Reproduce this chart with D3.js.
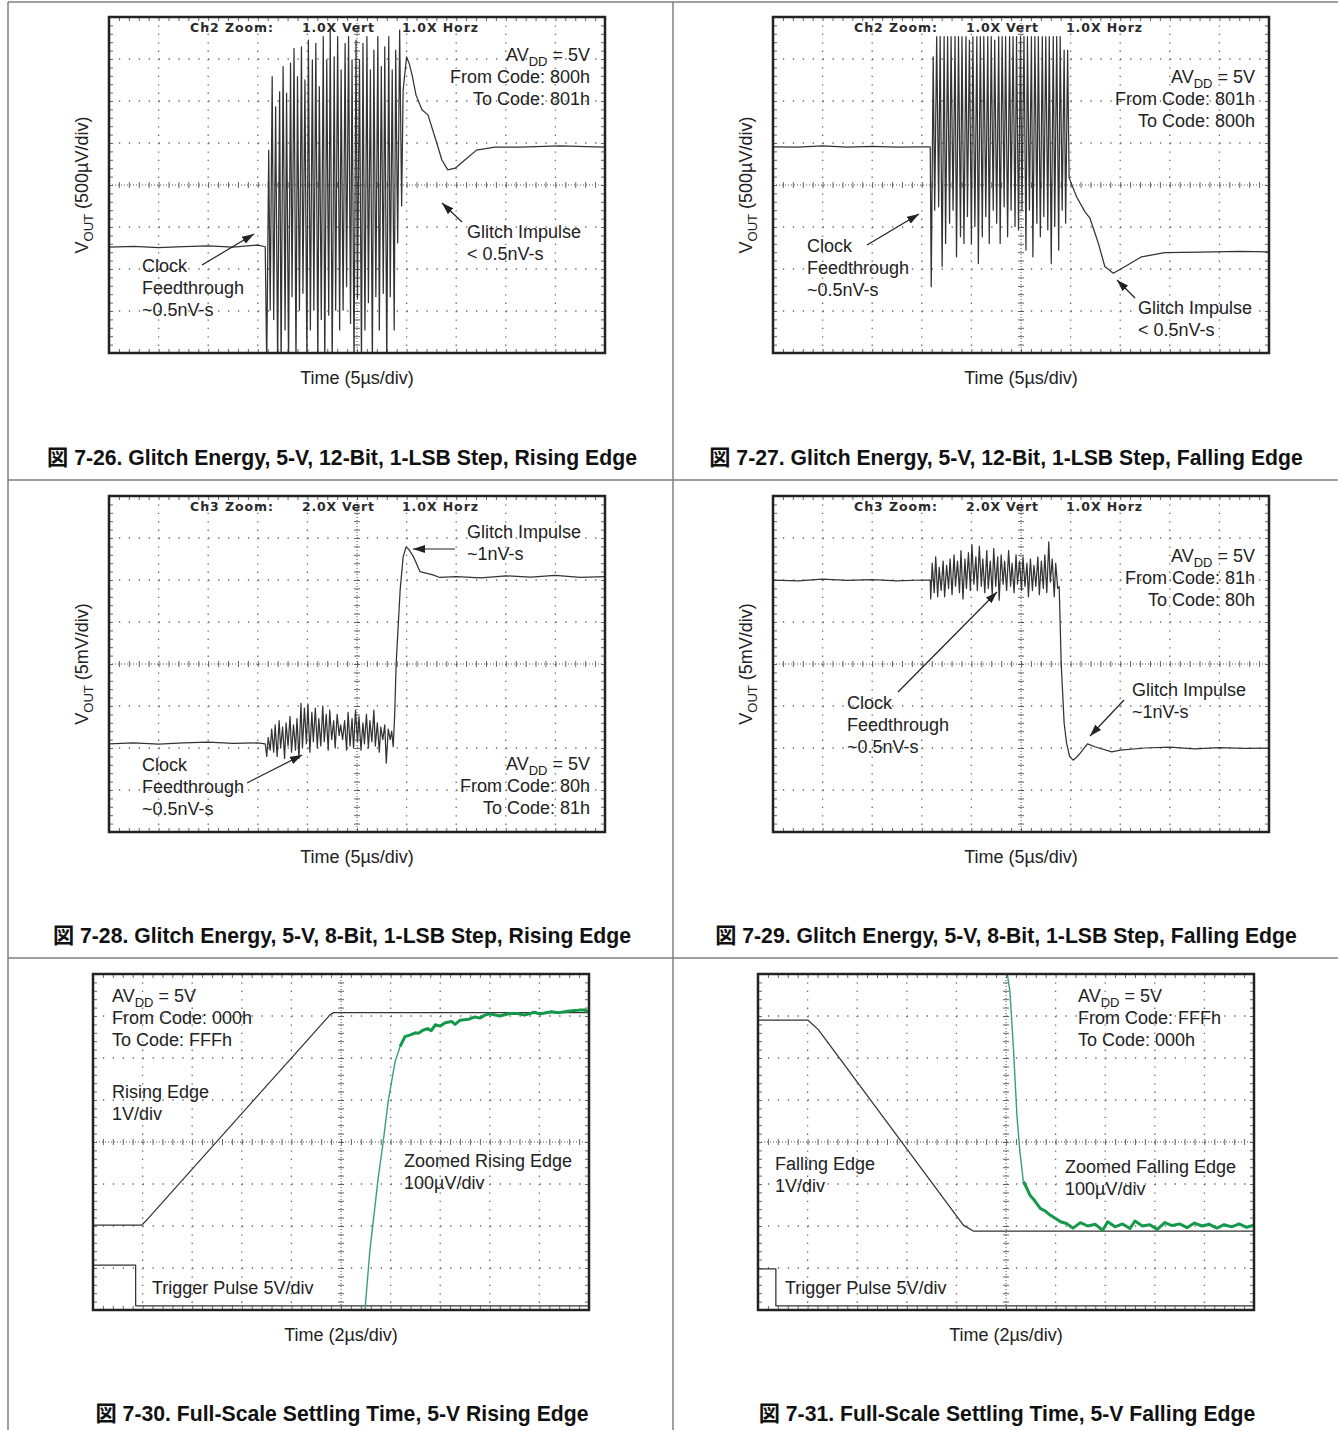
<!DOCTYPE html>
<html>
<head>
<meta charset="utf-8">
<script src="https://cdn.jsdelivr.net/npm/d3@7"></script>
<style>
  body { margin: 0; background: #fff; }
  svg { display: block; }
  text { font-family: "Liberation Sans", Arial, "Noto Sans CJK JP", sans-serif; fill: #222; }
  .cap { font-weight: bold; font-size: 21.2px; fill: #111; }
  .note { font-size: 18px; }
  .hdr { font-family: "DejaVu Sans", sans-serif; font-weight: bold; font-size: 12.5px; fill: #2a2a2a; }
</style>
</head>
<body>
<div id="chart"></div>
<script>
const width = 1338, height = 1430

// scope traces, [time (div), voltage (div)]
const fig26Trace = [[0,-1.48],[0.5,-1.46],[1.0,-1.49],[1.5,-1.47],[2.0,-1.45],[2.5,-1.48],[3.0,-1.43],[3.15,-1.47],
  [3.18,-4.3],[3.22,0.83],[3.25,-2.98],[3.29,2.58],[3.32,-3.2],[3.36,1.86],[3.40,-4.3],[3.44,2.22],[3.47,-4.3],[3.51,2.82],
  [3.55,-3.45],[3.58,2.18],[3.62,-4.3],[3.66,2.90],[3.69,-2.66],[3.73,3.25],[3.77,-4.3],[3.80,2.58],[3.84,-2.98],[3.88,3.29],
  [3.91,-2.58],[3.95,2.50],[3.99,-4.3],[4.02,3.45],[4.06,-3.45],[4.10,2.98],[4.13,-2.98],[4.17,3.37],[4.21,-4.3],[4.24,2.34],
  [4.28,-3.2],[4.32,3.53],[4.35,-4.3],[4.39,2.98],[4.43,-3.1],[4.46,3.69],[4.50,-4.3],[4.54,3.05],[4.57,-2.98],[4.61,3.53],
  [4.65,-3.45],[4.68,2.74],[4.72,-2.98],[4.76,3.37],[4.79,-2.42],[4.83,3.53],[4.87,-3.3],[4.90,2.98],[4.94,-4.3],[4.98,3.45],
  [5.01,-2.7],[5.05,2.98],[5.09,-4.3],[5.12,3.37],[5.16,-3.45],[5.20,3.53],[5.23,-2.8],[5.27,2.74],[5.31,-4.3],[5.34,3.21],
  [5.38,-2.66],[5.42,3.53],[5.45,-3.45],[5.49,2.82],[5.53,-2.58],[5.56,3.29],[5.60,-4.3],[5.64,3.53],[5.67,-2.66],[5.71,2.74],
  [5.75,-3.45],[5.78,3.21],[5.82,-1.38],[5.86,3.69],[5.90,-0.5],[5.93,2.26],
  [6.0,3.05],[6.05,2.9],[6.11,2.62],[6.19,2.14],[6.31,1.79],[6.43,1.67],[6.59,1.07],[6.71,0.6],[6.83,0.36],[6.98,0.40],
  [7.18,0.6],[7.41,0.83],[7.78,0.9],[8.29,0.9],[9.09,0.93],[10,0.9]]

const fig27Trace = [[0,0.91],[0.5,0.90],[1.0,0.93],[1.5,0.90],[2.0,0.92],[2.5,0.90],[3.0,0.91],[3.17,0.91],
  [3.19,-2.42],[3.23,3.05],[3.26,-0.60],[3.30,3.53],[3.34,-0.52],[3.37,3.53],[3.41,-1.94],[3.45,3.53],[3.48,-1.39],[3.52,3.53],
  [3.56,-0.91],[3.59,3.53],[3.63,-0.60],[3.67,3.53],[3.70,-1.71],[3.74,3.53],[3.78,-1.23],[3.81,3.53],[3.85,-1.39],[3.89,3.53],
  [3.92,-0.75],[3.96,3.45],[4.00,-1.39],[4.03,3.53],[4.07,-0.99],[4.11,3.53],[4.14,-1.87],[4.18,3.53],[4.22,-1.23],[4.25,3.53],
  [4.29,-0.75],[4.33,3.53],[4.36,-1.39],[4.40,3.53],[4.44,-0.60],[4.47,3.45],[4.51,-0.91],[4.55,3.53],[4.58,-1.39],[4.62,3.53],
  [4.66,-0.52],[4.69,3.53],[4.73,-1.23],[4.77,3.53],[4.80,-0.60],[4.84,3.53],[4.88,-0.99],[4.91,3.53],[4.95,-1.07],[4.99,3.53],
  [5.02,-0.60],[5.06,3.53],[5.10,-1.55],[5.13,3.53],[5.17,-0.60],[5.21,3.53],[5.24,-1.71],[5.28,3.53],[5.32,-0.91],[5.35,3.53],
  [5.39,-1.23],[5.43,3.53],[5.46,-0.75],[5.50,3.53],[5.54,-1.07],[5.57,3.53],[5.61,-1.87],[5.65,3.53],[5.68,-0.99],[5.72,3.53],
  [5.76,-1.55],[5.79,3.53],[5.83,-0.60],[5.87,3.21],[5.90,-0.91],[5.94,3.21],[5.97,0.17],
  [6.12,-0.28],[6.29,-0.64],[6.39,-0.79],[6.47,-1.07],[6.56,-1.39],[6.69,-1.94],[6.86,-2.10],[7.10,-1.94],[7.43,-1.71],
  [7.90,-1.61],[8.61,-1.60],[9.42,-1.58],[10,-1.59]]

const fig28Trace = [[0,-1.90],[0.5,-1.88],[1.0,-1.91],[1.5,-1.88],[2.0,-1.86],[2.5,-1.89],[3.0,-1.88],[3.15,-1.90],
  [3.18,-2.20],[3.21,-1.75],[3.25,-2.05],[3.28,-1.55],[3.32,-2.10],[3.35,-1.45],[3.39,-2.20],[3.43,-1.35],[3.46,-2.00],
  [3.50,-1.50],[3.54,-2.25],[3.57,-1.40],[3.61,-1.95],[3.65,-1.25],[3.68,-2.10],[3.72,-1.45],[3.76,-2.05],[3.79,-1.30],
  [3.83,-2.25],[3.87,-0.94],[3.90,-2.00],[3.94,-1.05],[3.98,-1.90],[4.01,-0.95],[4.05,-2.10],[4.09,-1.15],[4.12,-1.85],
  [4.16,-1.05],[4.20,-2.00],[4.23,-1.30],[4.27,-1.95],[4.31,-1.00],[4.34,-1.85],[4.38,-1.20],[4.42,-2.05],[4.45,-1.10],
  [4.49,-1.80],[4.53,-1.35],[4.56,-2.00],[4.60,-1.20],[4.64,-1.70],[4.67,-1.45],[4.71,-1.80],[4.75,-1.35],[4.79,-2.05],
  [4.82,-1.15],[4.86,-1.95],[4.90,-1.30],[4.93,-2.00],[4.97,-1.10],[5.01,-1.85],[5.04,-1.25],[5.08,-2.05],[5.12,-1.40],
  [5.15,-1.90],[5.19,-1.20],[5.23,-2.00],[5.26,-1.35],[5.30,-1.85],[5.34,-1.10],[5.37,-1.95],[5.41,-1.40],[5.45,-2.10],
  [5.48,-1.50],[5.52,-1.80],[5.56,-1.45],[5.59,-2.36],[5.63,-1.55],[5.67,-1.80],[5.70,-1.60],[5.73,-1.97],
  [5.76,-1.2],[5.79,0.02],[5.87,1.76],[5.93,2.55],[5.99,2.79],[6.05,2.72],[6.14,2.55],[6.27,2.20],[6.53,2.12],[6.67,2.06],
  [7.0,2.08],[7.5,2.05],[8.0,2.10],[8.5,2.07],[9.0,2.11],[9.5,2.06],[10,2.08]]

const fig29Trace = [[0,2.0],[0.5,1.98],[1.0,2.02],[1.5,1.99],[2.0,2.01],[2.5,1.98],[3.0,2.0],[3.17,2.0],
  [3.18,1.55],[3.21,2.40],[3.25,1.70],[3.28,2.55],[3.32,1.60],[3.35,2.30],[3.39,1.75],[3.43,2.45],[3.46,1.60],[3.50,2.35],
  [3.54,1.80],[3.57,2.50],[3.61,1.65],[3.65,2.60],[3.68,1.85],[3.72,2.45],[3.76,1.70],[3.79,2.70],[3.83,1.55],[3.87,2.50],
  [3.90,1.80],[3.94,2.65],[3.98,1.75],[4.01,2.85],[4.05,1.90],[4.09,2.55],[4.12,1.75],[4.16,2.80],[4.20,1.85],[4.23,2.50],
  [4.27,1.70],[4.31,2.70],[4.34,1.80],[4.38,2.45],[4.42,1.65],[4.45,2.75],[4.49,1.85],[4.53,2.55],[4.56,1.52],[4.60,2.60],
  [4.64,1.90],[4.67,2.45],[4.71,1.75],[4.75,2.70],[4.79,1.85],[4.82,2.40],[4.86,1.70],[4.90,2.60],[4.93,1.90],[4.97,2.45],
  [5.01,1.75],[5.04,2.55],[5.08,1.85],[5.12,2.40],[5.15,1.60],[5.19,2.50],[5.23,1.75],[5.26,2.35],[5.30,1.85],[5.34,2.55],
  [5.37,1.65],[5.41,2.45],[5.45,1.80],[5.48,2.60],[5.52,1.70],[5.56,2.91],[5.59,1.95],[5.63,2.50],[5.67,1.60],[5.70,2.40],
  [5.74,1.80],[5.77,1.84],
  [5.81,0.02],[5.87,-1.41],[5.92,-1.89],[5.98,-2.20],[6.05,-2.29],[6.12,-2.22],[6.19,-2.13],[6.34,-1.90],[6.49,-1.97],
  [6.83,-2.09],[7.0,-2.05],[7.5,-2.0],[8.0,-1.98],[8.5,-2.02],[9.0,-1.99],[9.5,-2.01],[10,-2.0]]

const fig30Output = [[0,-1.98],[0.98,-1.98],[1.05,-1.90],[4.72,2.95],[4.78,3.03],[4.85,3.08],[10,3.08]]
const fig30ZoomRise = [[5.47,-4.2],[5.58,-2.61],[5.75,-0.86],[5.85,0.0],[5.95,0.96],[6.09,1.91],[6.19,2.27]]
const fig30ZoomSettle = [[6.19,2.27],[6.29,2.51],[6.40,2.55],[6.50,2.60],[6.56,2.59],[6.65,2.66],[6.75,2.70],[6.82,2.65],
  [6.9,2.79],[7.0,2.76],[7.1,2.84],[7.23,2.87],[7.3,2.80],[7.4,2.90],[7.57,2.92],[7.7,2.98],[7.8,2.95],[7.9,3.02],[8.0,3.05],
  [8.2,3.0],[8.4,3.06],[8.57,3.06],[8.7,3.02],[8.9,3.09],[9.0,3.05],[9.24,3.10],[9.4,3.08],[9.6,3.12],[9.8,3.14],[9.92,3.14],[10,3.08]]
const fig30Trigger = [[0,-2.93],[0.86,-2.93],[0.86,-3.9],[10,-3.9]]

const fig31Output = [[0,2.9],[1.01,2.9],[1.22,2.67],[4.14,-1.98],[4.34,-2.12],[10,-2.12]]
const fig31ZoomFall = [[5.0,4.2],[5.08,3.58],[5.15,2.23],[5.22,0.64],[5.28,-0.23],[5.35,-0.94]]
const fig31ZoomSettle = [[5.35,-0.94],[5.42,-1.1],[5.48,-1.26],[5.58,-1.4],[5.69,-1.58],[5.8,-1.65],[5.89,-1.74],[6.0,-1.82],
  [6.1,-1.9],[6.22,-1.94],[6.35,-2.05],[6.5,-1.92],[6.65,-2.0],[6.8,-1.96],[6.95,-2.1],[7.05,-1.9],[7.2,-2.02],[7.35,-1.95],
  [7.5,-2.06],[7.6,-1.88],[7.75,-2.0],[7.9,-1.97],[8.05,-2.08],[8.2,-1.92],[8.35,-1.99],[8.5,-1.95],[8.65,-2.04],[8.8,-1.93],
  [8.95,-2.0],[9.1,-1.96],[9.25,-2.05],[9.4,-1.97],[9.55,-2.02],[9.7,-1.95],[9.85,-2.03],[10,-1.98]]
const fig31Trigger = [[0,-3.02],[0.36,-3.02],[0.36,-3.9],[10,-3.9]]

const captions = [
  "図 7-26. Glitch Energy, 5-V, 12-Bit, 1-LSB Step, Rising Edge",
  "図 7-27. Glitch Energy, 5-V, 12-Bit, 1-LSB Step, Falling Edge",
  "図 7-28. Glitch Energy, 5-V, 8-Bit, 1-LSB Step, Rising Edge",
  "図 7-29. Glitch Energy, 5-V, 8-Bit, 1-LSB Step, Falling Edge",
  "図 7-30. Full-Scale Settling Time, 5-V Rising Edge",
  "図 7-31. Full-Scale Settling Time, 5-V Falling Edge"
]
const timeLabels = ["Time (5µs/div)", "Time (5µs/div)", "Time (5µs/div)", "Time (5µs/div)", "Time (2µs/div)", "Time (2µs/div)"]
const voutLabels = ["(500µV/div)", "(500µV/div)", "(5mV/div)", "(5mV/div)", null, null]
const headers = [
  ["Ch2 Zoom:", "1.0X Vert", "1.0X Horz"],
  ["Ch2 Zoom:", "1.0X Vert", "1.0X Horz"],
  ["Ch3 Zoom:", "2.0X Vert", "1.0X Horz"],
  ["Ch3 Zoom:", "2.0X Vert", "1.0X Horz"],
  null, null
]

const TRACE = { stroke: "#333", width: 1.25 }
const GREEN = { stroke: "#14994a", width: 3 }
const TEAL = { stroke: "#3a9c86", width: 1.4 }

// layout: box corner, traces, notes (offsets in px from box corner)
const panels = [
  { x0: 109, y0: 17, cx: 342,
    traces: [[fig26Trace, TRACE]],
    notes: [
      { x: 481, y: 44, anchor: "end", lines: [["AV", "DD", " = 5V"], "From Code: 800h", "To Code: 801h"] },
      { x: 33, y: 255, anchor: "start", lines: ["Clock", "Feedthrough", "~0.5nV-s"] },
      { x: 358, y: 221, anchor: "start", lines: ["Glitch Impulse", "< 0.5nV-s"] }],
    arrows: [[[93, 248], [145, 217]], [[353, 205], [333, 186]]] },
  { x0: 773, y0: 17, cx: 1006,
    traces: [[fig27Trace, TRACE]],
    notes: [
      { x: 482, y: 66, anchor: "end", lines: [["AV", "DD", " = 5V"], "From Code: 801h", "To Code: 800h"] },
      { x: 34, y: 235, anchor: "start", lines: ["Clock", "Feedthrough", "~0.5nV-s"] },
      { x: 365, y: 297, anchor: "start", lines: ["Glitch Impulse", "< 0.5nV-s"] }],
    arrows: [[[94, 228], [146, 197]], [[362, 281], [344, 263]]] },
  { x0: 109, y0: 496, cx: 342,
    traces: [[fig28Trace, TRACE]],
    notes: [
      { x: 358, y: 42, anchor: "start", lines: ["Glitch Impulse", "~1nV-s"] },
      { x: 481, y: 274, anchor: "end", lines: [["AV", "DD", " = 5V"], "From Code: 80h", "To Code: 81h"] },
      { x: 33, y: 275, anchor: "start", lines: ["Clock", "Feedthrough", "~0.5nV-s"] }],
    arrows: [[[346, 53], [304, 53]], [[138, 287], [193, 259]]] },
  { x0: 773, y0: 496, cx: 1006,
    traces: [[fig29Trace, TRACE]],
    notes: [
      { x: 482, y: 66, anchor: "end", lines: [["AV", "DD", " = 5V"], "From Code: 81h", "To Code: 80h"] },
      { x: 74, y: 213, anchor: "start", lines: ["Clock", "Feedthrough", "~0.5nV-s"] },
      { x: 359, y: 200, anchor: "start", lines: ["Glitch Impulse", "~1nV-s"] }],
    arrows: [[[125, 196], [224, 96]], [[351, 204], [317, 240]]] },
  { x0: 93, y0: 974, cx: 342,
    traces: [[fig30Trigger, TRACE], [fig30Output, TRACE], [fig30ZoomRise, TEAL], [fig30ZoomSettle, GREEN]],
    notes: [
      { x: 19, y: 28, anchor: "start", lines: [["AV", "DD", " = 5V"], "From Code: 000h", "To Code: FFFh"] },
      { x: 19, y: 124, anchor: "start", lines: ["Rising Edge", "1V/div"] },
      { x: 311, y: 193, anchor: "start", lines: ["Zoomed Rising Edge", "100µV/div"] },
      { x: 59, y: 320, anchor: "start", lines: ["Trigger Pulse 5V/div"] }],
    arrows: [] },
  { x0: 758, y0: 974, cx: 1007,
    traces: [[fig31Trigger, TRACE], [fig31Output, TRACE], [fig31ZoomFall, TEAL], [fig31ZoomSettle, GREEN]],
    notes: [
      { x: 320, y: 28, anchor: "start", lines: [["AV", "DD", " = 5V"], "From Code: FFFh", "To Code: 000h"] },
      { x: 17, y: 196, anchor: "start", lines: ["Falling Edge", "1V/div"] },
      { x: 307, y: 199, anchor: "start", lines: ["Zoomed Falling Edge", "100µV/div"] },
      { x: 27, y: 320, anchor: "start", lines: ["Trigger Pulse 5V/div"] }],
    arrows: [] }
]

const boxW = 496, boxH = 336
const rowTop = [0, 478, 956]

const svg = d3.select("#chart").append("svg")
  .attr("width", width)
  .attr("height", height)

const defs = svg.append("defs")
defs.append("marker")
  .attr("id", "head")
  .attr("viewBox", "0 0 12 8")
  .attr("refX", 12).attr("refY", 4)
  .attr("markerWidth", 12).attr("markerHeight", 8)
  .attr("markerUnits", "userSpaceOnUse")
  .attr("orient", "auto")
  .append("path")
  .attr("d", "M0,0 L12,4 L0,8 z")
  .attr("fill", "#222")

// page frame
const frame = svg.append("g").attr("stroke", "#808080").attr("stroke-width", 1.5)
frame.append("line").attr("x1", 8).attr("x2", 8).attr("y1", 2).attr("y2", height)
frame.append("line").attr("x1", 673).attr("x2", 673).attr("y1", 2).attr("y2", height)
frame.append("line").attr("x1", 8).attr("x2", width).attr("y1", 2).attr("y2", 2)
frame.append("line").attr("x1", 8).attr("x2", width).attr("y1", 480).attr("y2", 480)
frame.append("line").attr("x1", 8).attr("x2", width).attr("y1", 958).attr("y2", 958)

panels.forEach((p, i) => {
  const x = d3.scaleLinear().domain([0, 10]).range([p.x0, p.x0 + boxW])
  const y = d3.scaleLinear().domain([-4, 4]).range([p.y0 + boxH, p.y0])
  const minorX = d3.range(0, 51).map(k => k / 5)
  const minorY = d3.range(-20, 21).map(k => k / 5)
  const stepX = x(0.2) - x(0), stepY = y(0) - y(0.2)

  const g = svg.append("g").attr("class", "panel")

  defs.append("clipPath").attr("id", "clip" + i)
    .append("rect")
    .attr("x", p.x0).attr("y", p.y0).attr("width", boxW).attr("height", boxH)

  // dotted graticule
  const grid = g.append("g").attr("stroke", "#666").attr("stroke-width", 1.3)
  grid.selectAll(".gx").data([1, 2, 3, 4, 6, 7, 8, 9]).join("line")
    .attr("x1", d => x(d)).attr("x2", d => x(d))
    .attr("y1", y(4)).attr("y2", y(-4))
    .attr("stroke-dasharray", `1.3,${stepY - 1.3}`)
  grid.selectAll(".gy").data([-3, -2, -1, 1, 2, 3]).join("line")
    .attr("x1", x(0)).attr("x2", x(10))
    .attr("y1", d => y(d)).attr("y2", d => y(d))
    .attr("stroke-dasharray", `1.3,${stepX - 1.3}`)

  // centre cross with minor ticks
  const cross = g.append("g").attr("stroke", "#555").attr("stroke-width", 1)
  cross.append("line").attr("x1", x(0)).attr("x2", x(10)).attr("y1", y(0)).attr("y2", y(0))
    .attr("stroke-dasharray", "1,2")
  cross.append("line").attr("x1", x(5)).attr("x2", x(5)).attr("y1", y(4)).attr("y2", y(-4))
    .attr("stroke-dasharray", "1,2")

  const tickAxes = [
    [d3.axisBottom(x).tickValues(minorX).tickSize(3), `translate(0,${y(0)})`],
    [d3.axisTop(x).tickValues(minorX).tickSize(3), `translate(0,${y(0)})`],
    [d3.axisRight(y).tickValues(minorY).tickSize(3), `translate(${x(5)},0)`],
    [d3.axisLeft(y).tickValues(minorY).tickSize(3), `translate(${x(5)},0)`],
    [d3.axisBottom(x).tickValues(minorX).tickSize(4), `translate(0,${y(4)})`],
    [d3.axisTop(x).tickValues(minorX).tickSize(4), `translate(0,${y(-4)})`],
    [d3.axisRight(y).tickValues(minorY).tickSize(4), `translate(${x(0)},0)`],
    [d3.axisLeft(y).tickValues(minorY).tickSize(4), `translate(${x(10)},0)`]
  ]
  tickAxes.forEach(([ax, tr]) => {
    const a = g.append("g").attr("transform", tr).call(ax.tickFormat(""))
    a.select(".domain").remove()
    a.selectAll("line").attr("stroke", "#555").attr("stroke-width", 0.9)
  })

  // header from the scope
  if (headers[i]) {
    const hx = [[81, 83], [193, 72], [293, 76]]
    headers[i].forEach((h, k) => {
      g.append("text").attr("class", "hdr")
        .attr("x", p.x0 + hx[k][0]).attr("y", p.y0 + 15)
        .attr("textLength", hx[k][1]).attr("lengthAdjust", "spacing")
        .text(h)
    })
  }

  // traces
  const line = d3.line().x(d => x(d[0])).y(d => y(d[1]))
  const tg = g.append("g").attr("clip-path", `url(#clip${i})`)
  p.traces.forEach(([data, style]) => {
    tg.append("path")
      .datum(data)
      .attr("d", line)
      .attr("fill", "none")
      .attr("stroke", style.stroke)
      .attr("stroke-width", style.width)
      .attr("stroke-linejoin", "round")
  })

  // box
  g.append("rect")
    .attr("x", p.x0).attr("y", p.y0).attr("width", boxW).attr("height", boxH)
    .attr("fill", "none").attr("stroke", "#222").attr("stroke-width", 2.5)

  // annotations
  p.notes.forEach(n => {
    n.lines.forEach((ln, k) => {
      const t = g.append("text").attr("class", "note")
        .attr("x", p.x0 + n.x).attr("y", p.y0 + n.y + k * 22)
        .attr("text-anchor", n.anchor)
      if (Array.isArray(ln)) {
        t.append("tspan").text(ln[0])
        t.append("tspan").attr("dy", 5).attr("font-size", 13).text(ln[1])
        t.append("tspan").attr("dy", -5).text(ln[2])
      } else {
        t.text(ln)
      }
    })
  })
  p.arrows.forEach(([a, b]) => {
    g.append("line")
      .attr("x1", p.x0 + a[0]).attr("y1", p.y0 + a[1])
      .attr("x2", p.x0 + b[0]).attr("y2", p.y0 + b[1])
      .attr("stroke", "#222").attr("stroke-width", 1.2)
      .attr("marker-end", "url(#head)")
  })

  // axis titles and caption
  g.append("text").attr("class", "note")
    .attr("x", x(5)).attr("y", y(-4) + 31)
    .attr("text-anchor", "middle")
    .text(timeLabels[i])

  if (voutLabels[i]) {
    const t = g.append("text").attr("class", "note")
      .attr("transform", `translate(${p.x0 - 21},${y(0)}) rotate(-90)`)
      .attr("text-anchor", "middle")
    t.append("tspan").text("V")
    t.append("tspan").attr("dy", 5).attr("font-size", 13).text("OUT")
    t.append("tspan").attr("dy", -5).text(" " + voutLabels[i])
  }

  const row = Math.floor(i / 2)
  g.append("text").attr("class", "cap")
    .attr("x", p.cx).attr("y", rowTop[row] + 465)
    .attr("text-anchor", "middle")
    .text(captions[i])
})
</script>
</body>
</html>
